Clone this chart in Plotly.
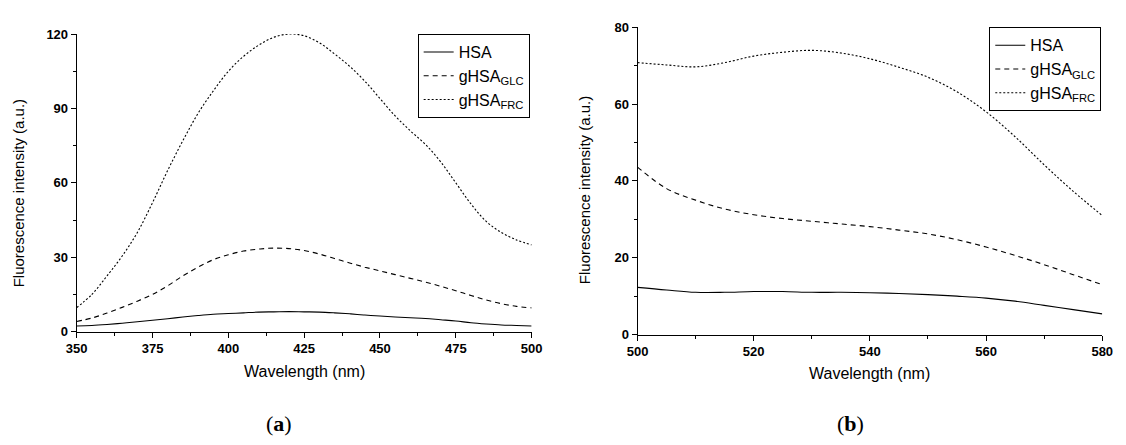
import plotly.graph_objects as go

# Panel (a): 350-500 nm
wl_a = [350, 355, 360, 365, 370, 375, 380, 385, 390, 395, 400, 405, 410, 415, 420,
        425, 430, 435, 440, 445, 450, 455, 460, 465, 470, 475, 480, 485, 490, 495, 500]
hsa_a = [2.3, 2.5, 2.9, 3.4, 4.0, 4.6, 5.2, 5.9, 6.5, 7.0, 7.3, 7.6, 7.9, 8.0, 8.1,
         8.0, 7.9, 7.6, 7.2, 6.7, 6.3, 5.9, 5.6, 5.3, 4.8, 4.3, 3.6, 3.1, 2.7, 2.5, 2.3]
glc_a = [4.1, 5.5, 7.5, 9.8, 12.3, 15.0, 18.5, 22.5, 26.0, 29.0, 31.0, 32.5, 33.3, 33.7, 33.5,
         32.7, 31.3, 29.5, 27.7, 26.0, 24.5, 23.0, 21.5, 20.0, 18.3, 16.5, 14.6, 12.8, 11.3, 10.2, 9.6]
frc_a = [9.7, 15, 22.5, 30.5, 40, 52, 65, 77, 88, 97, 105, 111, 115.5, 118.7, 120,
         119.3, 116.5, 112, 107, 101, 94, 87, 81, 75.5, 68.5, 60, 51.5, 44.5, 40, 37, 35]

# Panel (b): 500-580 nm
wl_b = [500, 505, 510, 515, 520, 525, 530, 535, 540, 545, 550, 555, 560, 565, 570, 575, 580]
hsa_b = [12.3, 11.6, 11.0, 11.0, 11.2, 11.2, 11.0, 11.0, 10.9, 10.7, 10.4, 10.0, 9.5, 8.7, 7.6, 6.5, 5.4]
glc_b = [43.6, 38.0, 35.0, 32.7, 31.2, 30.2, 29.5, 28.8, 28.1, 27.2, 26.2, 24.7, 22.8, 20.6, 18.2, 15.6, 13.0]
frc_b = [70.8, 70.2, 69.7, 70.8, 72.5, 73.5, 74.0, 73.3, 71.8, 69.6, 67.0, 63.2, 58.0, 51.5, 44.2, 37.3, 31.0]

names = ["HSA", "gHSA<sub>GLC</sub>", "gHSA<sub>FRC</sub>"]
dashes = ["solid", "5px,4px", "2px,2px"]
x_title = "Wavelength (nm)"
y_title = "Fluorescence intensity (a.u.)"

W, H = 1126, 445
fig = go.Figure()
for nm, ys, d in zip(names, [hsa_a, glc_a, frc_a], dashes):
    fig.add_trace(go.Scatter(x=wl_a, y=ys, name=nm, mode="lines", line_shape="spline",
                             line=dict(color="black", width=1.1, dash=d),
                             xaxis="x", yaxis="y", legend="legend"))
for nm, ys, d in zip(names, [hsa_b, glc_b, frc_b], dashes):
    fig.add_trace(go.Scatter(x=wl_b, y=ys, name=nm, mode="lines", line_shape="spline",
                             line=dict(color="black", width=1.1, dash=d),
                             xaxis="x2", yaxis="y2", legend="legend2"))

tickfont = dict(family="Liberation Sans, Arial", size=13, color="black", weight="bold")
common = dict(showline=True, linecolor="black", linewidth=1, ticks="outside", ticklen=5,
              tickcolor="black", tickwidth=1, showgrid=False, zeroline=False,
              tickfont=tickfont)

leg_font = dict(family="Liberation Sans, Arial", size=16, color="black")
fig.update_layout(
    width=W, height=H, margin=dict(l=0, r=0, t=0, b=0),
    paper_bgcolor="white", plot_bgcolor="white",
    xaxis=dict(domain=[67 / W, 531 / W], range=[350, 500], dtick=25, anchor="y",
               minor=dict(dtick=12.5, ticks="outside", ticklen=3, tickcolor="black"), **common),
    yaxis=dict(domain=[(H - 336) / H, (H - 28) / H], range=[0, 120], dtick=30, anchor="x",
               minor=dict(dtick=15, ticks="outside", ticklen=3, tickcolor="black"), **common),
    xaxis2=dict(domain=[639 / W, 1113 / W], range=[500, 580], dtick=20, anchor="y2",
                minor=dict(dtick=10, ticks="outside", ticklen=3, tickcolor="black"), **common),
    yaxis2=dict(domain=[(H - 339) / H, (H - 21) / H], range=[0, 80], dtick=20, anchor="x2",
                minor=dict(dtick=10, ticks="outside", ticklen=3, tickcolor="black"), **common),
    legend=dict(x=529 / W, y=1 - 28 / H, xanchor="right", yanchor="top",
                bordercolor="black", borderwidth=1, bgcolor="white",
                font=leg_font, tracegroupgap=0),
    legend2=dict(x=1112 / W, y=1 - 21 / H, xanchor="right", yanchor="top",
                 bordercolor="black", borderwidth=1, bgcolor="white",
                 font=leg_font, tracegroupgap=0),
    showlegend=True,
)

xt_font = dict(family="Liberation Sans, Arial", size=16, color="black")
yt_font = dict(family="Liberation Sans, Arial", size=15, color="black")
anns = [
    dict(text=x_title, x=(67 + 531) / 2 / W, y=1 - 377 / H, font=xt_font),
    dict(text=x_title, x=(639 + 1113) / 2 / W, y=1 - 379 / H, font=xt_font),
    dict(text=y_title, x=8 / W, y=1 - 193 / H, textangle=-90, font=yt_font),
    dict(text=y_title, x=585 / W, y=1 - 190 / H, textangle=-90, font=yt_font),
]
for a in anns:
    fig.add_annotation(xref="paper", yref="paper", showarrow=False,
                       xanchor="center", yanchor="middle", **a)
for lab, xc in [("a", 273), ("b", 856)]:
    fig.add_annotation(xref="paper", yref="paper", showarrow=False,
                       text="(<b>%s</b>)" % lab, x=xc / W, y=1 - 431 / H,
                       xanchor="center", yanchor="middle",
                       font=dict(family="Liberation Serif, DejaVu Serif", size=22, color="black"))

fig.write_html("out.html")
